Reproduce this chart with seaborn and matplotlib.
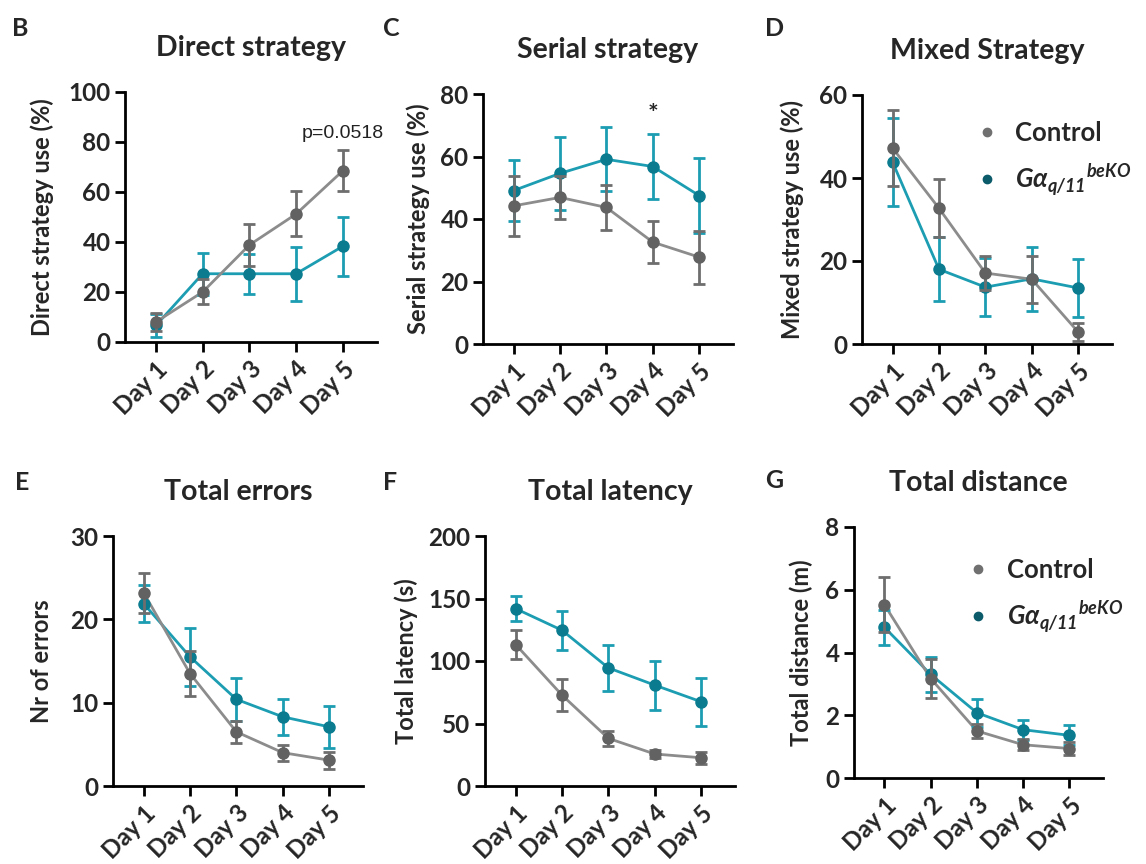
import numpy as np
import pandas as pd
import seaborn as sns
import matplotlib.pyplot as plt
from matplotlib.lines import Line2D

days = ["Day 1", "Day 2", "Day 3", "Day 4", "Day 5"]

# B - direct strategy use (%)
direct_ctrl = [8.0, 20.0, 38.8, 51.2, 68.5]
direct_ctrl_sem = [3.5, 5.0, 8.3, 9.0, 8.3]
direct_ko = [6.6, 27.3, 27.3, 27.3, 38.3]
direct_ko_sem = [4.6, 8.4, 8.0, 10.8, 11.8]

# C - serial strategy use (%)
serial_ctrl = [44.2, 46.9, 43.7, 32.6, 27.8]
serial_ctrl_sem = [9.6, 7.0, 7.2, 6.7, 8.5]
serial_ko = [49.1, 54.6, 59.1, 56.8, 47.5]
serial_ko_sem = [9.8, 11.7, 10.2, 10.3, 12.0]

# D - mixed strategy use (%)
mixed_ctrl = [47.2, 32.7, 17.1, 15.6, 2.9]
mixed_ctrl_sem = [9.2, 7.0, 4.2, 5.6, 2.2]
mixed_ko = [43.8, 18.0, 13.7, 15.7, 13.5]
mixed_ko_sem = [10.6, 7.7, 7.0, 7.7, 7.1]

# E - total errors
errors_ctrl = [23.2, 13.5, 6.5, 4.0, 3.1]
errors_ctrl_sem = [2.4, 2.7, 1.3, 0.95, 1.0]
errors_ko = [21.9, 15.5, 10.4, 8.3, 7.1]
errors_ko_sem = [2.2, 3.5, 2.6, 2.2, 2.5]

# F - total latency (s)
latency_ctrl = [113.2, 72.7, 38.1, 25.6, 22.6]
latency_ctrl_sem = [11.5, 12.8, 5.8, 3.0, 4.6]
latency_ko = [141.9, 124.6, 94.5, 80.7, 67.4]
latency_ko_sem = [10.0, 15.5, 18.6, 19.5, 19.0]

# G - total distance (m)
distance_ctrl = [5.52, 3.17, 1.50, 1.06, 0.94]
distance_ctrl_sem = [0.88, 0.62, 0.22, 0.17, 0.20]
distance_ko = [4.80, 3.30, 2.08, 1.54, 1.36]
distance_ko_sem = [0.57, 0.56, 0.45, 0.32, 0.32]

ctrl_label = "Control"
ko_label = r"$\mathbfit{G\alpha}_{\mathbfit{q/11}}{}^{\mathbfit{beKO}}$"

teal_line = "#1c9db2"
teal_dot = "#0b7c90"
gray_line = "#8c8c8c"
gray_dot = "#626262"

sns.set_style("ticks")
plt.rcParams["font.family"] = ["Lato", "DejaVu Sans"]
plt.rcParams["font.weight"] = "bold"
plt.rcParams["mathtext.fontset"] = "custom"
plt.rcParams["mathtext.bfit"] = "Lato:italic:bold"
plt.rcParams["mathtext.rm"] = "Lato:bold"

fig = plt.figure(figsize=(11.46, 8.64), dpi=100)
W, H = 1146, 864


def make_ax(left, top, width, height):
    return fig.add_axes([left / W, 1 - (top + height) / H, width / W, height / H])


def draw_panel(ax, ctrl, ctrl_sem, ko, ko_sem, ymax, ystep, ylabel, title, label_x):
    df = pd.DataFrame({
        "day": days * 2,
        "value": ko + ctrl,
        "group": ["KO"] * 5 + ["Control"] * 5,
    })
    sns.lineplot(data=df, x="day", y="value", hue="group", sort=False,
                 palette={"KO": teal_line, "Control": gray_line},
                 lw=2, legend=False, ax=ax, zorder=2)
    ax.errorbar(days, ko, yerr=ko_sem, fmt="o", ms=8, color=teal_dot,
                ecolor=teal_line, elinewidth=2, capsize=4.5, capthick=2, zorder=3)
    ax.errorbar(days, ctrl, yerr=ctrl_sem, fmt="o", ms=8, color=gray_dot,
                ecolor="#6e6e6e", elinewidth=2, capsize=4.5, capthick=2, zorder=4)
    ax.set_xlim(-0.66, 4.73)
    ax.set_ylim(0, ymax)
    ax.set_yticks(np.arange(0, ymax + ystep / 2, ystep))
    ax.set_xlabel("")
    ax.set_ylabel(ylabel, fontsize=17, fontweight="bold")
    ax.yaxis.set_label_coords(label_x, 0.5)
    ax.set_title(title, fontsize=20.5, fontweight="bold", pad=26)
    sns.despine(ax=ax)
    for s in ["left", "bottom"]:
        ax.spines[s].set_linewidth(2)
        ax.spines[s].set_color("black")
    ax.tick_params(axis="both", width=2, length=7, labelsize=17.5, color="black")
    ax.tick_params(axis="x", pad=4)
    for lab in ax.get_xticklabels():
        lab.set_rotation(45)
        lab.set_ha("right")
        lab.set_rotation_mode("anchor")
        lab.set_fontsize(17.5)


def add_legend(ax, x0, y0):
    handles = [
        Line2D([], [], marker="o", ls="", ms=6, color="#707070"),
        Line2D([], [], marker="o", ls="", ms=6, color="#0b5b6b"),
    ]
    ax.legend(handles, [ctrl_label, ko_label], loc="upper left",
              bbox_to_anchor=(x0, y0), frameon=False, fontsize=18.5,
              handletextpad=0.5, labelspacing=0.65, handlelength=1.2)


axB = make_ax(125, 92, 252, 250)
draw_panel(axB, direct_ctrl, direct_ctrl_sem, direct_ko, direct_ko_sem,
           100, 20, "Direct strategy use (%)", "Direct strategy", -0.28)
axB.text(4, 80, "p=0.0518", ha="center", va="bottom", fontsize=14,
         fontweight="normal", family="Liberation Sans", color="#222222")

axC = make_ax(483, 94, 250, 250)
draw_panel(axC, serial_ctrl, serial_ctrl_sem, serial_ko, serial_ko_sem,
           80, 20, "Serial strategy use (%)", "Serial strategy", -0.21)
axC.text(3, 71, "*", ha="center", va="baseline", fontsize=18, fontweight="bold")

axD = make_ax(862, 95, 250, 249)
draw_panel(axD, mixed_ctrl, mixed_ctrl_sem, mixed_ko, mixed_ko_sem,
           60, 20, "Mixed strategy use (%)", "Mixed Strategy", -0.23)
add_legend(axD, 0.345, 0.99)

axE = make_ax(113, 536, 250, 250)
draw_panel(axE, errors_ctrl, errors_ctrl_sem, errors_ko, errors_ko_sem,
           30, 10, "Nr of errors", "Total errors", -0.24)

axF = make_ax(485, 536, 250, 250)
draw_panel(axF, latency_ctrl, latency_ctrl_sem, latency_ko, latency_ko_sem,
           200, 50, "Total latency (s)", "Total latency", -0.27)

axG = make_ax(854, 527, 249, 251)
draw_panel(axG, distance_ctrl, distance_ctrl_sem, distance_ko, distance_ko_sem,
           8, 2, "Total distance (m)", "Total distance", -0.165)
add_legend(axG, 0.345, 0.97)

# panel letters
for letter, x, y in [("B", 12, 28), ("C", 383, 28), ("D", 765, 28),
                     ("E", 15, 483), ("F", 383, 483), ("G", 765, 480)]:
    fig.text(x / W, 1 - y / H, letter, fontsize=18, fontweight="bold",
             ha="left", va="center")

fig.savefig("out.png", dpi=100)
